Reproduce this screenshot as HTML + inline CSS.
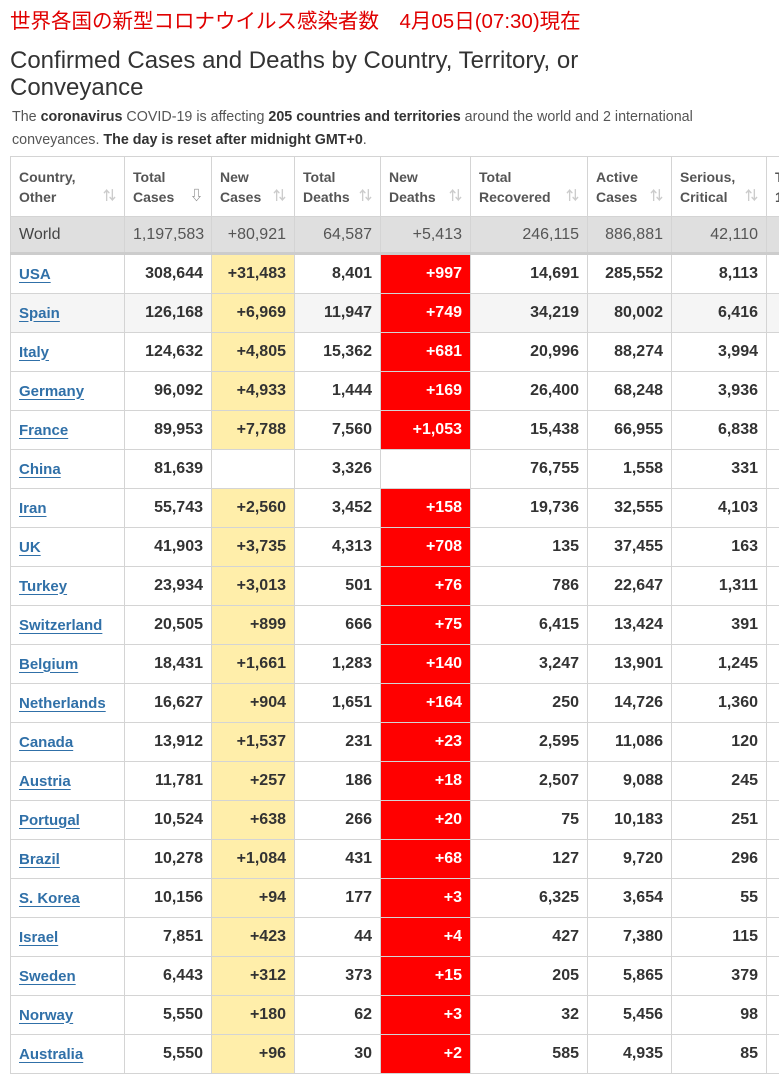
<!DOCTYPE html>
<html><head><meta charset="utf-8"><style>
body{margin:0;width:779px;height:1067px;overflow:hidden;background:#fff;font-family:"Liberation Sans","Noto Sans CJK JP",sans-serif;position:relative}
.abs{position:absolute;white-space:nowrap}
#t{position:absolute;left:10px;top:156px;border-collapse:collapse;table-layout:fixed;width:796px}
#t td,#t th{border:1px solid #d4d4d4;padding:0 8px;overflow:hidden;white-space:nowrap}
#t th{height:59px;text-align:left;font-size:14px;color:#555;font-weight:bold;line-height:20px;vertical-align:middle;position:relative}
#t th .s{position:absolute;right:8px;bottom:10px;color:#ccc;font-size:13px}
#t td{height:38px;text-align:right;font-size:16px;font-weight:bold;color:#333}
#t tr.w td{height:35px;background:#dfdfdf;font-weight:normal;color:#555;font-size:16px;border-bottom:3px solid #ccc}
#t tr.w td:first-child{text-align:left;color:#444}
#t td.c{text-align:left;font-size:15px}
#t td.c a{color:#3070a8;text-decoration:underline;text-underline-offset:3px}
#t td.nc{background:#ffeeaa}
#t td.nd{background:#ff0000;color:#fff}
#t tr.g td{background:#f5f5f5}
#t tr.g td.nc{background:#ffeeaa}#t tr.g td.nd{background:#ff0000}
</style></head><body>
<div class="abs" style="left:10px;top:4px;font-size:20.5px;color:#e00000">世界各国の新型コロナウイルス感染者数　4月05日(07:30)現在</div>
<div class="abs" style="left:10px;top:47px;font-size:24px;color:#333;line-height:27px">Confirmed Cases and Deaths by Country, Territory, or<br>Conveyance</div>
<div class="abs" style="left:12px;top:106px;font-size:14.3px;color:#555;line-height:23px">The <b style="color:#333">coronavirus</b> COVID-19 is affecting <b style="color:#333">205 countries and territories</b> around the world and 2 international<br>conveyances. <b style="color:#333">The day is reset after midnight GMT+0</b>.</div>
<table id="t">
<colgroup><col style="width:114px"><col style="width:87px"><col style="width:83px"><col style="width:86px"><col style="width:90px"><col style="width:117px"><col style="width:84px"><col style="width:95px"><col style="width:40px"></colgroup>
<thead><tr>
<th>Country,<br>Other<span class="s">⇅</span></th>
<th>Total<br>Cases<span class="s" style="color:#888">⇩</span></th>
<th>New<br>Cases<span class="s">⇅</span></th>
<th>Total<br>Deaths<span class="s">⇅</span></th>
<th>New<br>Deaths<span class="s">⇅</span></th>
<th>Total<br>Recovered<span class="s">⇅</span></th>
<th>Active<br>Cases<span class="s">⇅</span></th>
<th>Serious,<br>Critical<span class="s">⇅</span></th>
<th>T<br>1</th>
</tr></thead>
<tbody id="tb"></tbody></table>
<script>
const countries=["USA","Spain","Italy","Germany","France","China","Iran","UK","Turkey","Switzerland","Belgium","Netherlands","Canada","Austria","Portugal","Brazil","S. Korea","Israel","Sweden","Norway","Australia"];
const totalCases=["308,644","126,168","124,632","96,092","89,953","81,639","55,743","41,903","23,934","20,505","18,431","16,627","13,912","11,781","10,524","10,278","10,156","7,851","6,443","5,550","5,550"];
const newCases=["+31,483","+6,969","+4,805","+4,933","+7,788","","+2,560","+3,735","+3,013","+899","+1,661","+904","+1,537","+257","+638","+1,084","+94","+423","+312","+180","+96"];
const totalDeaths=["8,401","11,947","15,362","1,444","7,560","3,326","3,452","4,313","501","666","1,283","1,651","231","186","266","431","177","44","373","62","30"];
const newDeaths=["+997","+749","+681","+169","+1,053","","+158","+708","+76","+75","+140","+164","+23","+18","+20","+68","+3","+4","+15","+3","+2"];
const recovered=["14,691","34,219","20,996","26,400","15,438","76,755","19,736","135","786","6,415","3,247","250","2,595","2,507","75","127","6,325","427","205","32","585"];
const active=["285,552","80,002","88,274","68,248","66,955","1,558","32,555","37,455","22,647","13,424","13,901","14,726","11,086","9,088","10,183","9,720","3,654","7,380","5,865","5,456","4,935"];
const serious=["8,113","6,416","3,994","3,936","6,838","331","4,103","163","1,311","391","1,245","1,360","120","245","251","296","55","115","379","98","85"];
const world=["World","1,197,583","+80,921","64,587","+5,413","246,115","886,881","42,110",""];
const tb=document.getElementById('tb');
function cell(tr,txt,cls,name){const td=document.createElement('td');if(cls)td.className=cls;td.innerHTML=txt;


tr.appendChild(td);return td;}
const names=["country","total-cases","new-cases","total-deaths","new-deaths","total-recovered","active-cases","serious-critical","extra"];
let wr=document.createElement('tr');wr.className='w';


world.forEach((v,i)=>cell(wr,v,'','world-'+names[i]));tb.appendChild(wr);
countries.forEach((c,i)=>{const tr=document.createElement('tr');if(i===1)tr.className='g';


const td=cell(tr,'','c','country-cell');const a=document.createElement('a');a.textContent=c;


td.appendChild(a);
cell(tr,totalCases[i],'','total-cases-cell');
cell(tr,newCases[i],newCases[i]?'nc':'','new-cases-cell');
cell(tr,totalDeaths[i],'','total-deaths-cell');
cell(tr,newDeaths[i],newDeaths[i]?'nd':'','new-deaths-cell');
cell(tr,recovered[i],'','recovered-cell');
cell(tr,active[i],'','active-cases-cell');
cell(tr,serious[i],'','serious-critical-cell');
cell(tr,'','','extra-cell');
tb.appendChild(tr);});
</script>
</body></html>
